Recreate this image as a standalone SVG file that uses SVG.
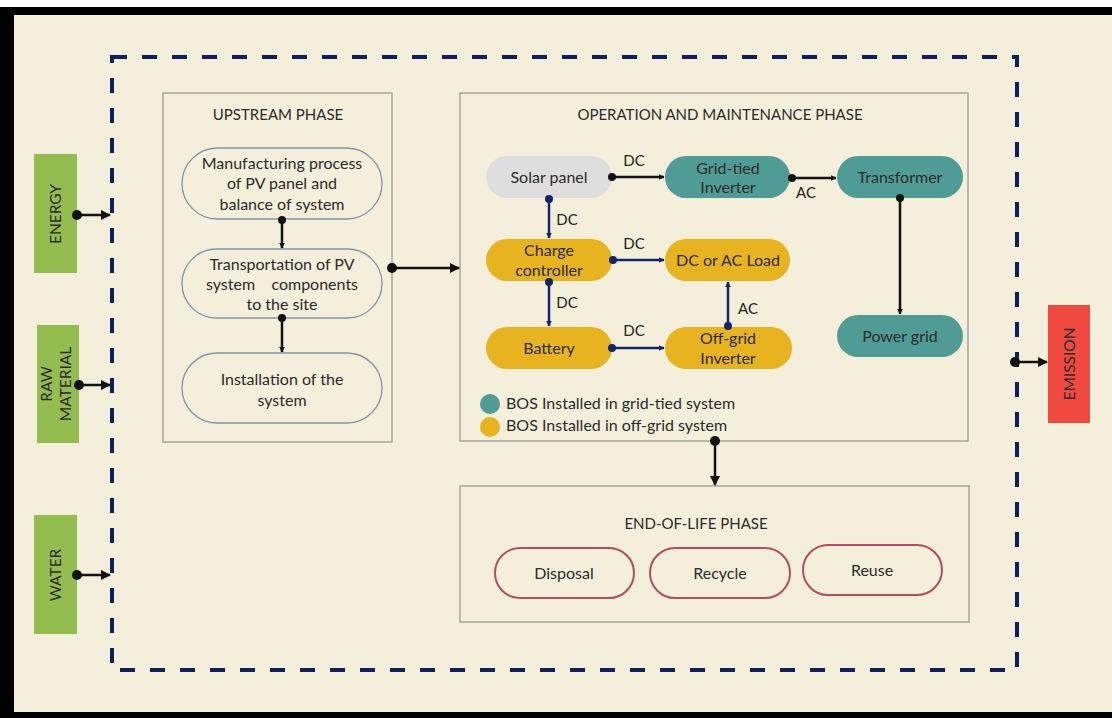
<svg xmlns="http://www.w3.org/2000/svg" width="1112" height="718" viewBox="0 0 1112 718">
<defs>
<style>
text{font-family:Lato,"Open Sans","Liberation Sans",sans-serif;fill:#2b2b2b;}
.t{font-size:16px;text-anchor:middle;}
.s{font-size:15.5px;text-anchor:middle;}
.h{font-size:15px;text-anchor:middle;}
.panel{fill:none;stroke:#9a9a90;stroke-width:1.3;}
.up{fill:none;stroke:#7f95a8;stroke-width:1.3;}
.grey{fill:#dedede;}
.teal{fill:#4f9b96;}
.gold{fill:#e7b41f;}
.eol{fill:none;stroke:#b24d62;stroke-width:2;}
.in{fill:#93bd4f;}
.bk{stroke:#111;stroke-width:2.5;fill:none;}
.nv{stroke:#12256b;stroke-width:2.5;fill:none;}
.lbl{font-size:15px;text-anchor:middle;fill:#222;}
</style>
<marker id="ab" viewBox="0 0 10 10" refX="9" refY="5" markerWidth="6" markerHeight="6" markerUnits="userSpaceOnUse" orient="auto"><path d="M0,0 L10,5 L0,10 z" fill="#111"/></marker>
<marker id="an" viewBox="0 0 10 10" refX="9" refY="5" markerWidth="6" markerHeight="6" markerUnits="userSpaceOnUse" orient="auto"><path d="M0,0 L10,5 L0,10 z" fill="#12256b"/></marker>
<marker id="abL" viewBox="0 0 10 10" refX="9" refY="5" markerWidth="10" markerHeight="10" markerUnits="userSpaceOnUse" orient="auto"><path d="M0,0 L10,5 L0,10 z" fill="#111"/></marker>
</defs>
<rect x="0" y="0" width="1112" height="718" fill="#ffffff"/>
<rect x="0" y="7" width="1112" height="711" fill="#000"/>
<rect x="14" y="15" width="1098" height="697" fill="#f4efda"/>
<rect x="112" y="57" width="905" height="613" fill="none" stroke="#0d1f5c" stroke-width="4" stroke-dasharray="15 15"/>

<g id="energy"><rect class="in" x="34" y="154" width="43" height="119"/><text class="s" transform="translate(61,214) rotate(-90)">ENERGY</text></g>
<g id="raw-material"><rect class="in" x="37" y="325" width="42" height="118"/><text class="s" transform="translate(52,384) rotate(-90)">RAW</text><text class="s" transform="translate(71,384) rotate(-90)">MATERIAL</text></g>
<g id="water"><rect class="in" x="34" y="515" width="43" height="119"/><text class="s" transform="translate(61,575) rotate(-90)">WATER</text></g>
<g id="emission"><rect x="1048" y="305" width="42" height="118" fill="#f0493f"/><text class="s" transform="translate(1075,364) rotate(-90)">EMISSION</text></g>

<g id="upstream-phase"><rect class="panel" x="163" y="93" width="229" height="349"/><text class="h" x="278" y="120">UPSTREAM PHASE</text></g>
<g id="manufacturing"><rect class="up" x="182" y="148" width="200" height="71" rx="35.5"/><text class="t" x="282" y="169">Manufacturing process</text><text class="t" x="282" y="189">of PV panel and</text><text class="t" x="282" y="210">balance of system</text></g>
<g id="transportation"><rect class="up" x="182" y="249" width="200" height="69" rx="34.5"/><text class="t" x="282" y="270">Transportation of PV</text><text class="t" x="282" y="290" xml:space="preserve">system    components</text><text class="t" x="282" y="310">to the site</text></g>
<g id="installation"><rect class="up" x="182" y="353" width="200" height="70" rx="35"/><text class="t" x="282" y="385">Installation of the</text><text class="t" x="282" y="406">system</text></g>

<g id="om-phase"><rect class="panel" x="460" y="93" width="508" height="348"/><text class="h" x="720" y="120">OPERATION AND MAINTENANCE PHASE</text></g>
<g id="solar-panel"><rect class="grey" x="486" y="156" width="126" height="42" rx="21"/><text class="t" x="549" y="183">Solar panel</text></g>
<g id="grid-tied-inverter"><rect class="teal" x="665" y="156" width="125" height="42" rx="21"/><text class="t" x="728" y="174">Grid-tied</text><text class="t" x="728" y="193">Inverter</text></g>
<g id="transformer"><rect class="teal" x="837" y="156" width="126" height="42" rx="21"/><text class="t" x="900" y="183">Transformer</text></g>
<g id="charge-controller"><rect class="gold" x="486" y="239" width="126" height="42" rx="21"/><text class="t" x="549" y="256">Charge</text><text class="t" x="549" y="276">controller</text></g>
<g id="dc-ac-load"><rect class="gold" x="665" y="239" width="125" height="42" rx="21"/><text class="t" x="728" y="266">DC or AC Load</text></g>
<g id="battery"><rect class="gold" x="486" y="327" width="126" height="42" rx="21"/><text class="t" x="549" y="354">Battery</text></g>
<g id="off-grid-inverter"><rect class="gold" x="665" y="327" width="127" height="42" rx="21"/><text class="t" x="728" y="344">Off-grid</text><text class="t" x="728" y="364">Inverter</text></g>
<g id="power-grid"><rect class="teal" x="837" y="315" width="126" height="42" rx="21"/><text class="t" x="900" y="342">Power grid</text></g>
<g id="legend"><circle cx="490" cy="404" r="10" fill="#4f9b96"/><text x="506" y="409" font-size="16">BOS Installed in grid-tied system</text><circle cx="490" cy="427" r="10" fill="#e7b41f"/><text x="506" y="431" font-size="16">BOS Installed in off-grid system</text></g>

<g id="eol-phase"><rect class="panel" x="460" y="486" width="509" height="136"/><text class="h" x="696" y="529">END-OF-LIFE PHASE</text></g>
<g id="disposal"><rect class="eol" x="495" y="548" width="139" height="50" rx="25"/><text class="t" x="564" y="579">Disposal</text></g>
<g id="recycle"><rect class="eol" x="650" y="548" width="140" height="50" rx="25"/><text class="t" x="720" y="579">Recycle</text></g>
<g id="reuse"><rect class="eol" x="803" y="545" width="139" height="50" rx="25"/><text class="t" x="872" y="576">Reuse</text></g>

<g id="connectors">
<g fill="#111">
<circle cx="77" cy="215" r="5"/><circle cx="79" cy="385" r="5"/><circle cx="77" cy="575" r="5"/><circle cx="1015" cy="362" r="5"/>
<circle cx="282" cy="220" r="4"/><circle cx="282" cy="318" r="4"/><circle cx="392" cy="268" r="5"/>
<circle cx="612" cy="177" r="4"/><circle cx="792" cy="178" r="4"/><circle cx="900" cy="198" r="4"/><circle cx="715" cy="441" r="5"/>
</g>
<g fill="#12256b">
<circle cx="549" cy="199" r="4"/><circle cx="613" cy="260" r="4"/><circle cx="549" cy="282" r="4"/><circle cx="612" cy="348" r="4"/><circle cx="728" cy="326" r="4"/>
</g>
<path class="bk" d="M77,215 H110" marker-end="url(#abL)"/>
<path class="bk" d="M79,385 H110" marker-end="url(#abL)"/>
<path class="bk" d="M77,575 H110" marker-end="url(#abL)"/>
<path class="bk" d="M1015,362 H1047" marker-end="url(#abL)"/>
<path class="bk" d="M282,220 V248" marker-end="url(#ab)"/>
<path class="bk" d="M282,318 V352" marker-end="url(#ab)"/>
<path class="bk" d="M392,268 H459" marker-end="url(#abL)"/>
<path class="bk" d="M715,441 V485" marker-end="url(#abL)"/>
<path class="bk" d="M612,177 H664" marker-end="url(#ab)"/>
<path class="bk" d="M792,178 H836" marker-end="url(#ab)"/>
<path class="bk" d="M900,198 V314" marker-end="url(#ab)"/>
<path class="nv" d="M549,199 V238" marker-end="url(#an)"/>
<path class="nv" d="M613,260 H664" marker-end="url(#an)"/>
<path class="nv" d="M549,282 V326" marker-end="url(#an)"/>
<path class="nv" d="M612,348 H664" marker-end="url(#an)"/>
<path class="nv" d="M728,326 V282" marker-end="url(#an)"/>
<text class="lbl" x="634" y="166">DC</text>
<text class="lbl" x="806" y="198">AC</text>
<text class="lbl" x="567" y="225">DC</text>
<text class="lbl" x="634" y="249">DC</text>
<text class="lbl" x="567" y="308">DC</text>
<text class="lbl" x="634" y="336">DC</text>
<text class="lbl" x="748" y="314">AC</text>
</g>
</svg>
